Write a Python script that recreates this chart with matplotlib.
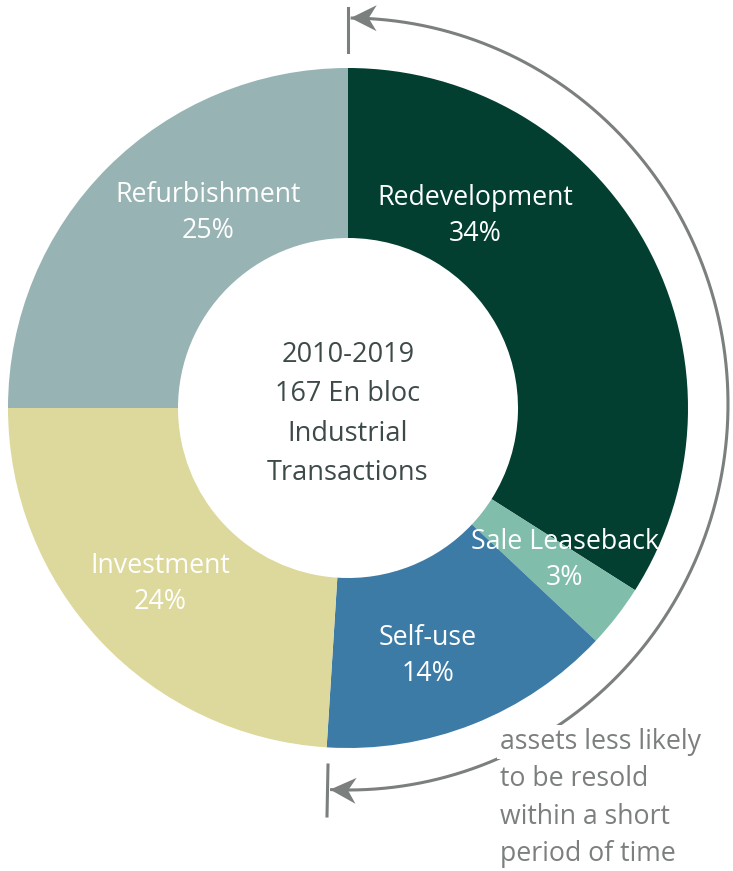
import numpy as np
import matplotlib
matplotlib.use("Agg")
import matplotlib.pyplot as plt
from matplotlib.patches import Polygon

plt.rcParams['font.family'] = ['Open Sans', 'DejaVu Sans']

# --- données ---
categories = ["Redevelopment", "Sale Leaseback", "Self-use", "Investment", "Refurbishment"]
parts = [34, 3, 14, 24, 25]
colors = ["#023f31", "#80bdab", "#3d7ba7", "#ddd89b", "#97b3b4"]

# positions des étiquettes (pixels, origine en haut à gauche)
label_xy = [(475, 216), (565, 560), (428, 656), (160, 584), (208, 213)]

center_text = "2010-2019\n167 En bloc\nIndustrial\nTransactions"
note_lines = ["assets less likely", "to be resold", "within a short", "period of time"]

W, H = 733, 871
GREY = '#7b7f7e'
fig = plt.figure(figsize=(W / 100, H / 100), dpi=100)
ax = fig.add_axes([0, 0, 1, 1])

cx, cy = 348, H - 408
r_out, r_in = 340, 170

ax.pie(parts, colors=colors, startangle=90, counterclock=False,
       radius=r_out, center=(cx, cy), frame=True,
       wedgeprops=dict(width=r_out - r_in, linewidth=0))
ax.set_xlim(0, W)
ax.set_ylim(0, H)
ax.set_aspect('equal')
ax.axis('off')

for name, val, (x, y) in zip(categories, parts, label_xy):
    ax.text(x, H - y, f"{name}\n{val}%", color='white', fontsize=19.3,
            ha='center', va='center', linespacing=1.38)

ax.text(cx, cy - 6, center_text, color='#3e4a4a', fontsize=19.5,
        ha='center', va='center', linespacing=1.55)


def pointe(tip, direction, length=26, half=13, notch=8):
    # pointe de flèche à encoche, orientée selon direction
    d = np.asarray(direction, float)
    d /= np.hypot(*d)
    n = np.array([-d[1], d[0]])
    tip = np.asarray(tip, float)
    back = tip - d * length
    pts = [tip, back + n * half, tip - d * (length - notch), back - n * half]
    ax.add_patch(Polygon(pts, closed=True, fc=GREY, ec='none', zorder=4))


# arc autour du graphique (légèrement elliptique)
rx, ry = 380, 386
acy = H - 404
theta = np.linspace(np.deg2rad(89.6), np.deg2rad(-92.7), 400)
ax.plot(cx + rx * np.cos(theta), acy + ry * np.sin(theta), color=GREY, lw=2.2,
        solid_capstyle='butt', zorder=3)

# pointes aux deux extrémités (tangentes de l'arc)
for t in (theta[0], theta[-1]):
    tip = (cx + rx * np.cos(t), acy + ry * np.sin(t))
    if t > 0:
        tang = (-rx * np.sin(t), ry * np.cos(t))
    else:
        tang = (rx * np.sin(t), -ry * np.cos(t))
    pointe(tip, tang)

# repères verticaux aux extrémités
ax.plot([348, 348], [H - 8, H - 52], color=GREY, lw=2.2)
ax.plot([328, 327], [H - 765, H - 816], color=GREY, lw=2.2)

# texte explicatif, fond blanc pour masquer l'arc
for i, line in enumerate(note_lines):
    ax.text(500, H - (742 + i * 37.3), line, color=GREY, fontsize=19.2,
            ha='left', va='center', zorder=5,
            bbox=dict(boxstyle='square,pad=0.12', fc='white', ec='none'))

fig.savefig("out.png", dpi=100)
